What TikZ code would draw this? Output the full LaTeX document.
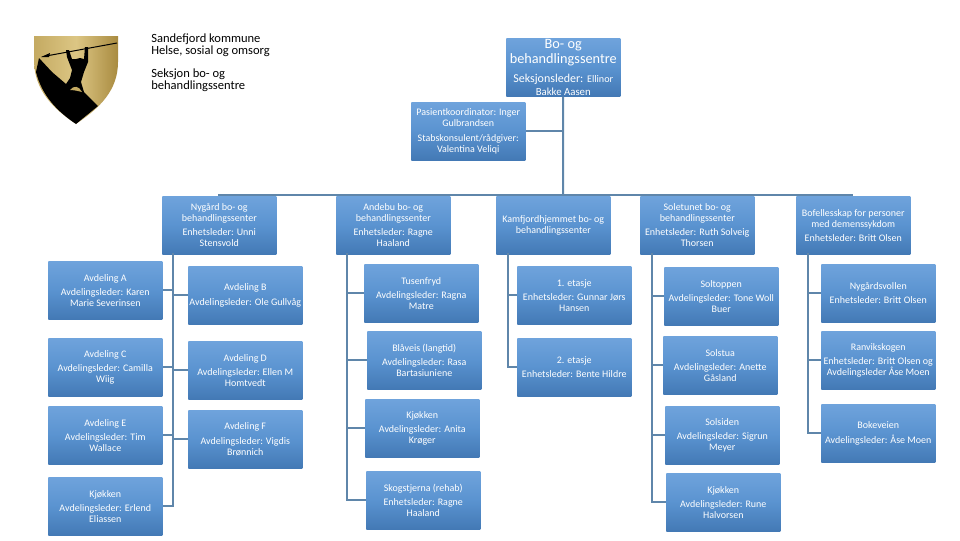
\documentclass[tikz,border=0pt]{standalone}
\usepackage{fontspec}
\setmainfont{Carlito}
\definecolor{boxtop}{HTML}{6FA3DC}
\definecolor{boxmid}{HTML}{5A93D0}
\definecolor{boxbot}{HTML}{4379B5}
\definecolor{linkblue}{HTML}{5F86AA}
\definecolor{goldl}{HTML}{C4AA62}
\definecolor{goldm}{HTML}{DCC684}
\definecolor{goldr}{HTML}{A98B40}
\newcommand{\topfont}{\fontsize{10.7}{11.2}\selectfont}
\newcommand{\smallfont}{\fontsize{7.6}{9}\selectfont}
\newcommand{\namefont}{\fontsize{8.1}{9}\selectfont}
\tikzset{
    %Define style for boxes
    unit/.style={
           rectangle,
           anchor=north west,
           top color=boxtop,
           bottom color=boxbot,
           middle color=boxmid,
           minimum width=85.5pt,
           minimum height=43.5pt,
           inner sep=0pt,
           align=center,
           text=white,
           font=\fontsize{7.5}{8.25}\selectfont,
           },
    headbox/.style={
           unit,
           font=\fontsize{9}{11}\selectfont,
           },
    % Define connector style
    link/.style={
           draw=linkblue,
           line width=1.5pt,
           },
    heading/.style={
           anchor=north west,
           inner sep=0pt,
           align=left,
           font=\fontsize{9.4}{8.8}\selectfont,
           },
}
\begin{document}
\begin{tikzpicture}[x=0.75pt,y=-0.75pt]
\useasboundingbox (0,0) rectangle (960,540);

 %shield
\path[left color=goldl,right color=goldr,middle color=goldm]
  (34,36) -- (118,36) -- (118,62) .. controls (118,90) and (100,108) .. (76,124)
  .. controls (52,108) and (35,90) .. (34,62) -- cycle;
\fill[black] (39,58) -- (52,72) -- (66,84) -- (70,78) -- (72,70) -- (67,57) -- (66,50) -- (69,50)
  -- (72,59) -- (76,59) -- (80,58) -- (84,59) -- (85,47) -- (88,47) -- (88,62) -- (84,72) -- (81,82)
  -- (84,92) -- (98,106) -- (76,124) .. controls (58,112) and (42,96) .. (36,72) -- cycle;
\fill[goldl] (70,90) .. controls (74,85) and (79,86) .. (82,92) .. controls (78,91) and (74,90) .. (70,90);
\draw[black,line width=0.75pt] (117,43) -- (46,56);
\fill[black] (41,57) -- (50,53) -- (49,57) -- cycle;

 %heading text
\node[heading] (title) at (151,33.5) {Sandefjord kommune\\Helse, sosial og omsorg};
\node[heading] (section) at (151,68.5) {Seksjon bo- og\\behandlingssentre};

 %top of the chart
\node[headbox] (top) at (506,38) {\topfont Bo- og\\\topfont behandlingssentre\\[3.5pt]Seksjonsleder: \smallfont Ellinor\\[-1.5pt]\namefont Bakke Aasen};
\node[unit] (staff) at (411,102) {Pasientkoordinator: Inger\\Gulbrandsen\\[2.5pt]Stabskonsulent/rådgiver:\\Valentina Veliqi};

 %units
\node[unit] (nygaard) at (162,196) {Nygård bo- og\\behandlingssenter\\[2.5pt]Enhetsleder: Unni\\Stensvold};
\node[unit] (andebu) at (336,196) {Andebu bo- og\\behandlingssenter\\[2.5pt]Enhetsleder: Ragne\\Haaland};
\node[unit] (kamfjord) at (496,196) {Kamfjordhjemmet bo- og\\behandlingssenter};
\node[unit] (soletunet) at (640,196) {Soletunet bo- og\\behandlingssenter\\[2.5pt]Enhetsleder: Ruth Solveig\\Thorsen};
\node[unit] (bofelle) at (796,196) {Bofellesskap for personer\\med demenssykdom\\[2.5pt]Enhetsleder: Britt Olsen};

 %Nygaard departments
\node[unit] (avdA) at (48,261) {Avdeling A\\[2.5pt]Avdelingsleder: Karen\\Marie Severinsen};
\node[unit] (avdB) at (188,266) {Avdeling B\\[2.5pt]Avdelingsleder: Ole Gullvåg};
\node[unit] (avdC) at (48,338) {Avdeling C\\[2.5pt]Avdelingsleder: Camilla\\Wiig};
\node[unit] (avdD) at (188,341) {Avdeling D\\[2.5pt]Avdelingsleder: Ellen M\\Homtvedt};
\node[unit] (avdE) at (48,406) {Avdeling E\\[2.5pt]Avdelingsleder: Tim\\Wallace};
\node[unit] (avdF) at (188,410) {Avdeling F\\[2.5pt]Avdelingsleder: Vigdis\\Brønnich};
\node[unit] (kjokkenN) at (48,477) {Kjøkken\\[2.5pt]Avdelingsleder: Erlend\\Eliassen};

 %Andebu departments
\node[unit] (tusenfryd) at (364,264) {Tusenfryd\\[2.5pt]Avdelingsleder: Ragna\\Matre};
\node[unit] (blaaveis) at (367,331) {Blåveis (langtid)\\[2.5pt]Avdelingsleder: Rasa\\Bartasiuniene};
\node[unit] (kjokkenA) at (365,399) {Kjøkken\\[2.5pt]Avdelingsleder: Anita\\Krøger};
\node[unit] (skogstjerna) at (366,471) {Skogstjerna (rehab)\\[2.5pt]Enhetsleder: Ragne\\Haaland};

 %Kamfjord floors
\node[unit] (etasje1) at (517,266) {1. etasje\\[2.5pt]Enhetsleder: Gunnar Jørs\\Hansen};
\node[unit] (etasje2) at (517,338) {2. etasje\\[2.5pt]Enhetsleder: Bente Hildre};

 %Soletunet departments
\node[unit] (soltoppen) at (664,267) {Soltoppen\\[2.5pt]Avdelingsleder: Tone Woll\\Buer};
\node[unit] (solstua) at (663,336) {Solstua\\[2.5pt]Avdelingsleder: Anette\\Gåsland};
\node[unit] (solsiden) at (665,406) {Solsiden\\[2.5pt]Avdelingsleder: Sigrun\\Meyer};
\node[unit] (kjokkenS) at (666,473) {Kjøkken\\[2.5pt]Avdelingsleder: Rune\\Halvorsen};

 %Bofellesskap houses
\node[unit] (nygaardsvollen) at (821,264) {Nygårdsvollen\\[2.5pt]Enhetsleder: Britt Olsen};
\node[unit] (ranvik) at (821,331) {Ranvikskogen\\[2.5pt]Enhetsleder: Britt Olsen og\\Avdelingsleder Åse Moen};
\node[unit] (bokeveien) at (821,404) {Bokeveien\\[2.5pt]Avdelingsleder: Åse Moen};

 %trunks and bus
\coordinate (hub) at (563,195);
\coordinate (busleft) at (218,195);
\coordinate (busright) at (853,195);
\coordinate (trunkN) at (173,253);
\coordinate (trunkA) at (347,253);
\coordinate (trunkK) at (508,253);
\coordinate (trunkS) at (652,253);
\coordinate (trunkB) at (808,253);

 %connectors
\draw[link] (top) -- (hub);
\draw[link] (top) |- (staff);
\draw[link] (busleft) -- (busright);
\foreach \child in {avdA,avdB,avdC,avdD,avdE,avdF,kjokkenN}
  \draw[link] (trunkN) |- (\child);
\foreach \child in {tusenfryd,blaaveis,kjokkenA,skogstjerna}
  \draw[link] (trunkA) |- (\child);
\foreach \child in {etasje1,etasje2}
  \draw[link] (trunkK) |- (\child);
\foreach \child in {soltoppen,solstua,solsiden,kjokkenS}
  \draw[link] (trunkS) |- (\child);
\foreach \child in {nygaardsvollen,ranvik,bokeveien}
  \draw[link] (trunkB) |- (\child);

\end{tikzpicture}
\end{document}
